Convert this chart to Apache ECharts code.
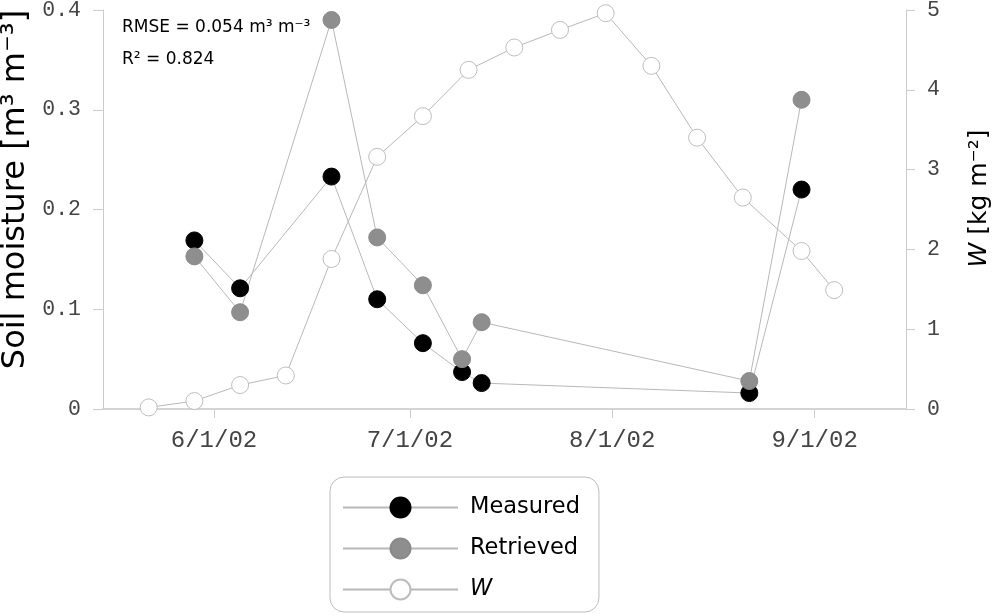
<!DOCTYPE html>
<html>
<head>
<meta charset="utf-8">
<title>Soil moisture</title>
<script src="https://cdn.jsdelivr.net/npm/echarts@6.0.0/dist/echarts.min.js"></script>
<style>
    html, body { margin: 0; padding: 0; background: #fff; }
    #chart { width: 1000px; height: 616px; }
</style>
</head>
<body>
<div id="chart"></div>
<script>
// 数据
var measuredDates = ['2002-05-29', '2002-06-05', '2002-06-19', '2002-06-26', '2002-07-03', '2002-07-09', '2002-07-12', '2002-08-22', '2002-08-30'];
var measuredValues = [0.169, 0.121, 0.233, 0.110, 0.066, 0.037, 0.026, 0.016, 0.220];
var retrievedValues = [0.153, 0.097, 0.390, 0.172, 0.124, 0.050, 0.087, 0.028, 0.310];
var wDates = ['2002-05-22', '2002-05-29', '2002-06-05', '2002-06-12', '2002-06-19', '2002-06-26', '2002-07-03', '2002-07-10',
    '2002-07-17', '2002-07-24', '2002-07-31', '2002-08-07', '2002-08-14', '2002-08-21', '2002-08-30', '2002-09-04'];
var wValues = [0.02, 0.10, 0.30, 0.42, 1.88, 3.16, 3.67, 4.25, 4.53, 4.75, 4.96, 4.30, 3.40, 2.65, 1.98, 1.49];
var xTickDates = ['2002-06-01', '2002-07-01', '2002-08-01', '2002-09-01'];
var xRange = ['2002-05-15', '2002-09-15'];

function toTime(s) {
    var p = s.split('-');
    return Date.UTC(+p[0], +p[1] - 1, +p[2]);
}
function pairs(dates, values) {
    return dates.map(function (d, i) { return [toTime(d), values[i]]; });
}

var sans = "'DejaVu Sans', Verdana, sans-serif";
var mono = "'Liberation Mono', 'Courier New', monospace";
var lineColor = '#b8b8b8';
var axisColor = '#cccccc';

var myChart = echarts.init(document.getElementById('chart'));
var option = {
    animation: false,
    grid: { left: 103, right: 94, top: 10, bottom: 207, outerBoundsMode: 'none' },
    legend: {
        orient: 'vertical',
        left: 330,
        top: 477,
        height: 106,
        padding: [19, 19, 11, 12],
        itemWidth: 115,
        itemHeight: 25,
        itemGap: 18,
        borderColor: '#bbbbbb',
        borderWidth: 1,
        borderRadius: 14,
        selectedMode: false,
        data: ['Measured', 'Retrieved', 'W'],
        formatter: function (name) { return name === 'W' ? '{i|W}' : name; },
        textStyle: {
            fontFamily: sans, fontSize: 22.5, color: '#000', padding: [0, 0, 0, 7],
            rich: { i: { fontFamily: sans, fontSize: 22.5, fontStyle: 'italic', color: '#000' } }
        }
    },
    xAxis: {
        type: 'value',
        min: toTime(xRange[0]),
        max: toTime(xRange[1]),
        axisLine: { lineStyle: { color: '#d4d4d4', width: 2 } },
        axisTick: { show: true, length: 9, customValues: xTickDates.map(toTime), lineStyle: { color: axisColor } },
        axisLabel: {
            customValues: xTickDates.map(toTime),
            formatter: function (v) {
                var d = new Date(v);
                return (d.getUTCMonth() + 1) + '/' + d.getUTCDate() + '/02';
            },
            fontFamily: mono, fontSize: 24, color: '#444', margin: 20
        },
        splitLine: { show: false }
    },
    yAxis: [{
        type: 'value',
        position: 'left',
        min: 0, max: 0.4, interval: 0.1,
        name: 'Soil moisture [m³ m⁻³]',
        nameLocation: 'middle',
        nameGap: 70,
        nameTextStyle: { fontFamily: sans, fontSize: 32, color: '#000', padding: [0, 0, 0, 40] },
        axisLine: { show: true, lineStyle: { color: axisColor } },
        axisTick: { show: true, length: 10, lineStyle: { color: axisColor } },
        axisLabel: {
            formatter: function (v) { return v === 0 ? '0' : v.toFixed(1); },
            fontFamily: mono, fontSize: 21.5, color: '#444', margin: 22
        },
        splitLine: { show: false }
    }, {
        type: 'value',
        position: 'right',
        min: 0, max: 5, interval: 1,
        name: '{i|W} [kg m⁻²]',
        nameLocation: 'middle',
        nameGap: 61,
        nameRotate: 90,
        nameTextStyle: {
            fontFamily: sans, fontSize: 25, color: '#000', padding: [0, 0, 0, 22],
            rich: { i: { fontFamily: sans, fontSize: 25, fontStyle: 'italic', color: '#000' } }
        },
        axisLine: { show: true, lineStyle: { color: axisColor } },
        axisTick: { show: true, length: 9, lineStyle: { color: axisColor } },
        axisLabel: { fontFamily: mono, fontSize: 21.5, color: '#444', margin: 21 },
        splitLine: { show: false }
    }],
    graphic: [{
        type: 'text', left: 122, top: 19,
        style: { text: 'RMSE = 0.054 m³ m⁻³', fontFamily: sans, fontSize: 17, fill: '#000' }
    }, {
        type: 'text', left: 122, top: 51,
        style: { text: 'R² = 0.824', fontFamily: sans, fontSize: 17, fill: '#000' }
    }],
    series: [{
        name: 'W',
        type: 'line',
        yAxisIndex: 1,
        data: pairs(wDates, wValues),
        symbol: 'circle',
        symbolSize: 17,
        itemStyle: { color: '#fff', borderColor: '#bdbdbd', borderWidth: 1 },
        lineStyle: { color: lineColor, width: 1 }
    }, {
        name: 'Measured',
        type: 'line',
        data: pairs(measuredDates, measuredValues),
        symbol: 'circle',
        symbolSize: 17,
        itemStyle: { color: '#000', borderColor: '#000', borderWidth: 1 },
        lineStyle: { color: lineColor, width: 1 }
    }, {
        name: 'Retrieved',
        type: 'line',
        data: pairs(measuredDates, retrievedValues),
        symbol: 'circle',
        symbolSize: 17,
        itemStyle: { color: '#8e8e8e', borderColor: '#8a8a8a', borderWidth: 1 },
        lineStyle: { color: lineColor, width: 1 }
    }]
};
myChart.setOption(option);
</script>
</body>
</html>
